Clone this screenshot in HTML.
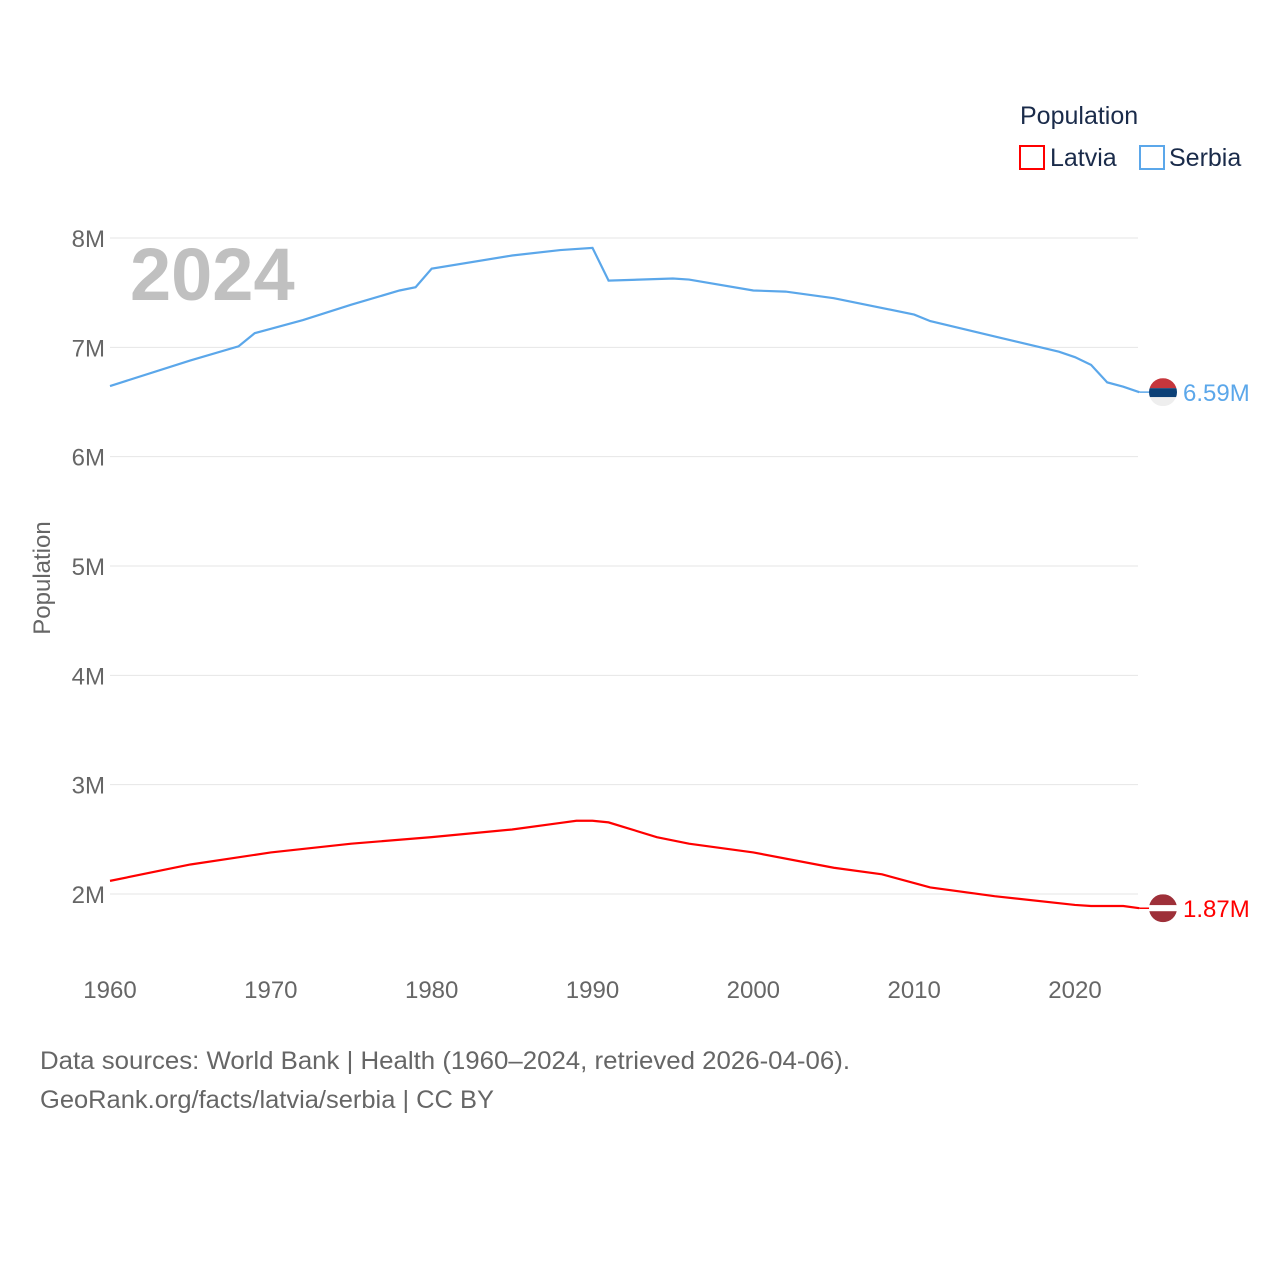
<!DOCTYPE html>
<html><head><meta charset="utf-8"><style>
body{margin:0;background:#fff;font-family:"Liberation Sans",sans-serif}
svg text{font-family:"Liberation Sans",sans-serif}
</style></head><body>
<svg id="chart" width="1280" height="1280" xmlns="http://www.w3.org/2000/svg">
<rect width="1280" height="1280" fill="#fff"/>
<g id="grid"></g>
<text x="130" y="300" font-size="74" font-weight="bold" fill="#c0c0c0">2024</text>
<text transform="translate(50,578) rotate(-90)" text-anchor="middle" font-size="24" fill="#666">Population</text>
<g id="lines"></g>
<text x="1020" y="124" font-size="25" fill="#1a2b4a">Population</text>
<g><rect x="1020" y="146" width="24" height="23" fill="none" stroke="#f00" stroke-width="2"/><text x="1050" y="166" font-size="25" fill="#1a2b4a">Latvia</text></g>
<g><rect x="1140" y="146" width="24" height="23" fill="none" stroke="#5ba7ea" stroke-width="2"/><text x="1169" y="166" font-size="25" fill="#1a2b4a">Serbia</text></g>
<text x="40" y="1069" font-size="25" fill="#666" textLength="810" lengthAdjust="spacingAndGlyphs">Data sources: World Bank | Health (1960–2024, retrieved 2026-04-06).</text>
<text x="40" y="1108" font-size="25" fill="#666" textLength="454" lengthAdjust="spacingAndGlyphs">GeoRank.org/facts/latvia/serbia | CC BY</text>
</svg>
<script>
const yTicks=[2,3,4,5,6,7,8];
const xTicks=[1960,1970,1980,1990,2000,2010,2020];
const serbiaYears=[1960,1965,1968,1969,1970,1972,1975,1978,1979,1980,1985,1988,1990,1991,1995,1996,2000,2002,2005,2010,2011,2015,2019,2020,2021,2022,2023,2024];
const serbiaVals=[6.646,6.88,7.01,7.13,7.17,7.25,7.39,7.52,7.55,7.72,7.84,7.89,7.91,7.61,7.63,7.62,7.52,7.51,7.45,7.30,7.24,7.10,6.96,6.91,6.84,6.68,6.64,6.59];
const latviaYears=[1960,1965,1970,1975,1980,1985,1988,1989,1990,1991,1992,1994,1996,2000,2005,2008,2010,2011,2015,2020,2021,2023,2024];
const latviaVals=[2.12,2.27,2.38,2.46,2.52,2.59,2.65,2.67,2.67,2.655,2.61,2.52,2.46,2.38,2.24,2.18,2.10,2.06,1.98,1.90,1.89,1.89,1.87];
const X=y=>110+(y-1960)*965/60;
const Y=v=>894-(v-2)*109.33;
const NS="http://www.w3.org/2000/svg";
function mk(t,a,p){const e=document.createElementNS(NS,t);for(const k in a)e.setAttribute(k,a[k]);p.appendChild(e);return e;}
const grid=document.getElementById('grid');
yTicks.forEach(v=>{
 const l=mk('line',{x1:110,x2:1138,y1:Y(v),y2:Y(v),stroke:'#e6e6e6','stroke-width':1},grid);
 
 
 const t=mk('text',{x:105,y:Y(v)+9,'text-anchor':'end','font-size':24,fill:'#666'},grid);
 t.textContent=v+'M';
 
 
});
xTicks.forEach(v=>{
 const t=mk('text',{x:X(v),y:998,'text-anchor':'middle','font-size':24,fill:'#666'},grid);
 t.textContent=v;
 
 
});
const lines=document.getElementById('lines');
function series(ys,vs,col,name,label,flag){
 const p=mk('polyline',{points:ys.map((y,i)=>X(y)+','+Y(vs[i])).join(' '),fill:'none',stroke:col,'stroke-width':2.2},lines);
 
 
 const last=vs[vs.length-1],cy=Y(last),cx=1163;
 mk('line',{x1:X(ys[ys.length-1]),x2:cx,y1:cy,y2:cy,stroke:col,'stroke-width':1.5},lines);
 const g=mk('g',{},lines);
 
 
 mk('clipPath',{id:'c'+name},g).appendChild(mk('circle',{cx:cx,cy:cy,r:14},g));
 flag.forEach(([c,y0,h])=>mk('rect',{x:cx-14,y:cy-14+y0,width:28,height:h,fill:c,'clip-path':'url(#c'+name+')'},g));
 const t=mk('text',{x:1183,y:cy+9,'font-size':24,fill:col},lines);
 t.textContent=label;
 
 
}
series(serbiaYears,serbiaVals,'#5ba7ea','serbia',serbiaVals[serbiaVals.length-1].toFixed(2)+'M',[['#c6363c',0,10],['#0c4076',10,9],['#eee',19,9]]);
series(latviaYears,latviaVals,'#f00','latvia',latviaVals[latviaVals.length-1].toFixed(2)+'M',[['#9e3039',0,11],['#fff',11,6],['#9e3039',17,11]]);
</script>
</body></html>
